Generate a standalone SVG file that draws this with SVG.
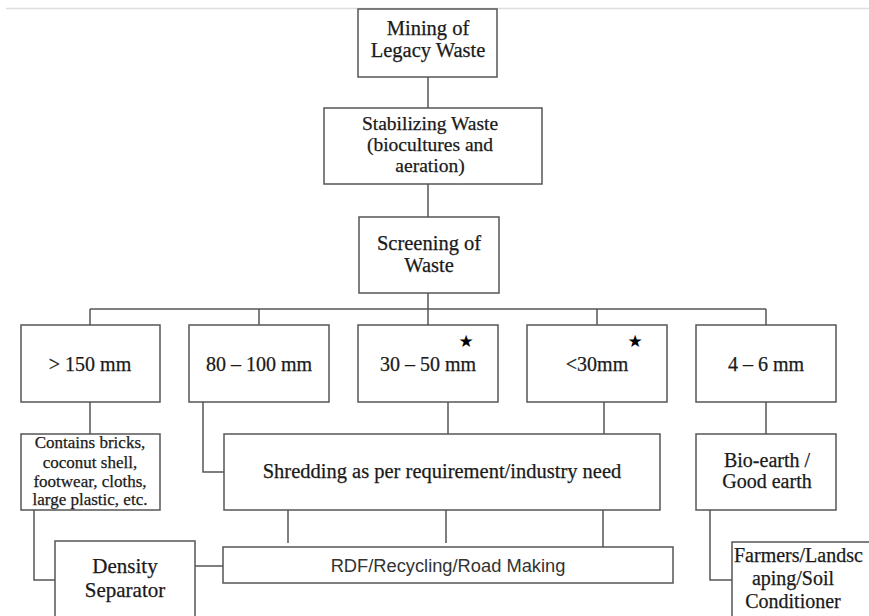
<svg xmlns="http://www.w3.org/2000/svg" width="869" height="616" viewBox="0 0 869 616">
<style>
.box{fill:#fff;stroke:#555;stroke-width:1.5}
.ln{fill:none;stroke:#555;stroke-width:1.5}
.t{font-family:"Liberation Serif","Times New Roman",serif;fill:#1a1a1a;stroke:#1a1a1a;stroke-width:0.25;text-anchor:middle}
.s19{font-size:20.5px}.s20{font-size:20px}.s16{font-size:17px}
.star{font-family:"DejaVu Sans",sans-serif;font-size:17px;fill:#000;text-anchor:middle}
.sans{font-family:"Liberation Sans",Arial,sans-serif;font-size:18.3px;fill:#333;text-anchor:middle}
</style>
<rect width="869" height="616" fill="#fff"/>
<line x1="6" y1="8.5" x2="869" y2="8.5" stroke="#ddd" stroke-width="1.5"/>
<g id="connectors" class="ln">
<line x1="428" y1="77" x2="428" y2="108"/>
<line x1="428" y1="184" x2="428" y2="217"/>
<line x1="428" y1="293" x2="428" y2="309"/>
<line x1="90" y1="309" x2="766" y2="309"/>
<line x1="90" y1="309" x2="90" y2="325"/>
<line x1="259" y1="309" x2="259" y2="325"/>
<line x1="428" y1="309" x2="428" y2="325"/>
<line x1="597" y1="309" x2="597" y2="325"/>
<line x1="766" y1="309" x2="766" y2="325"/>
<line x1="90" y1="402" x2="90" y2="434"/>
<polyline points="203,402 203,472 224,472"/>
<line x1="448" y1="402" x2="448" y2="434"/>
<line x1="604" y1="402" x2="604" y2="434"/>
<line x1="766" y1="402" x2="766" y2="434"/>
<line x1="288" y1="510" x2="288" y2="543"/>
<line x1="446" y1="510" x2="446" y2="543"/>
<line x1="603" y1="510" x2="603" y2="547"/>
<polyline points="34,510 34,580 55,580"/>
<line x1="195" y1="566" x2="223" y2="566"/>
<polyline points="710,510 710,580 732,580"/>
</g>
<g id="mining"><rect class="box" x="358" y="9" width="139" height="68"/>
<text class="t s19" x="428" y="35">Mining of</text><text class="t s19" x="428" y="57">Legacy Waste</text></g>
<g id="stabilizing"><rect class="box" x="324" y="108" width="218" height="76"/>
<text class="t" font-size="19.5" x="430" y="130">Stabilizing Waste</text><text class="t" font-size="19.5" x="430" y="151">(biocultures and</text><text class="t" font-size="19.5" x="430" y="172">aeration)</text></g>
<g id="screening"><rect class="box" x="359" y="217" width="140" height="76"/>
<text class="t s19" x="429" y="250">Screening of</text><text class="t s19" x="429" y="272">Waste</text></g>
<g id="gt150"><rect class="box" x="21" y="325" width="139" height="77"/>
<text class="t s20" x="90" y="371">&gt; 150 mm</text></g>
<g id="s80"><rect class="box" x="189" y="325" width="140" height="77"/>
<text class="t s20" x="259" y="371">80 – 100 mm</text></g>
<g id="s30"><rect class="box" x="358" y="325" width="140" height="77"/>
<text class="t s20" x="428" y="371">30 – 50 mm</text><text class="star" x="466" y="347">★</text></g>
<g id="lt30"><rect class="box" x="527" y="325" width="140" height="77"/>
<text class="t s20" x="597" y="371">&lt;30mm</text><text class="star" x="635" y="347">★</text></g>
<g id="s4"><rect class="box" x="696" y="325" width="140" height="77"/>
<text class="t s20" x="766" y="371">4 – 6 mm</text></g>
<g id="contains"><rect class="box" x="21" y="434" width="139" height="76"/>
<text class="t s16" x="90" y="448">Contains bricks,</text><text class="t s16" x="90" y="468">coconut shell,</text><text class="t s16" x="90" y="487">footwear, cloths,</text><text class="t s16" x="90" y="505">large plastic, etc.</text></g>
<g id="shredding"><rect class="box" x="224" y="434" width="436" height="76"/>
<text class="t s19" x="442" y="478">Shredding as per requirement/industry need</text></g>
<g id="bioearth"><rect class="box" x="696" y="434" width="140" height="76"/>
<text class="t s20" x="767" y="467">Bio-earth /</text><text class="t s20" x="767" y="488">Good earth</text></g>
<g id="rdf"><rect class="box" x="223" y="547" width="450" height="36"/>
<text class="sans" x="448" y="572">RDF/Recycling/Road Making</text></g>
<g id="density"><rect class="box" x="55" y="541" width="140" height="90"/>
<text class="t" x="125" y="573" font-size="21">Density</text><text class="t" x="125" y="597" font-size="21">Separator</text></g>
<g id="farmers"><rect class="box" x="732" y="542" width="160" height="90"/>
<text class="t s20" x="734" y="562" style="text-anchor:start">Farmers/Landsc</text><text class="t s20" x="793" y="585">aping/Soil</text><text class="t s20" x="793" y="608">Conditioner</text></g>
</svg>
